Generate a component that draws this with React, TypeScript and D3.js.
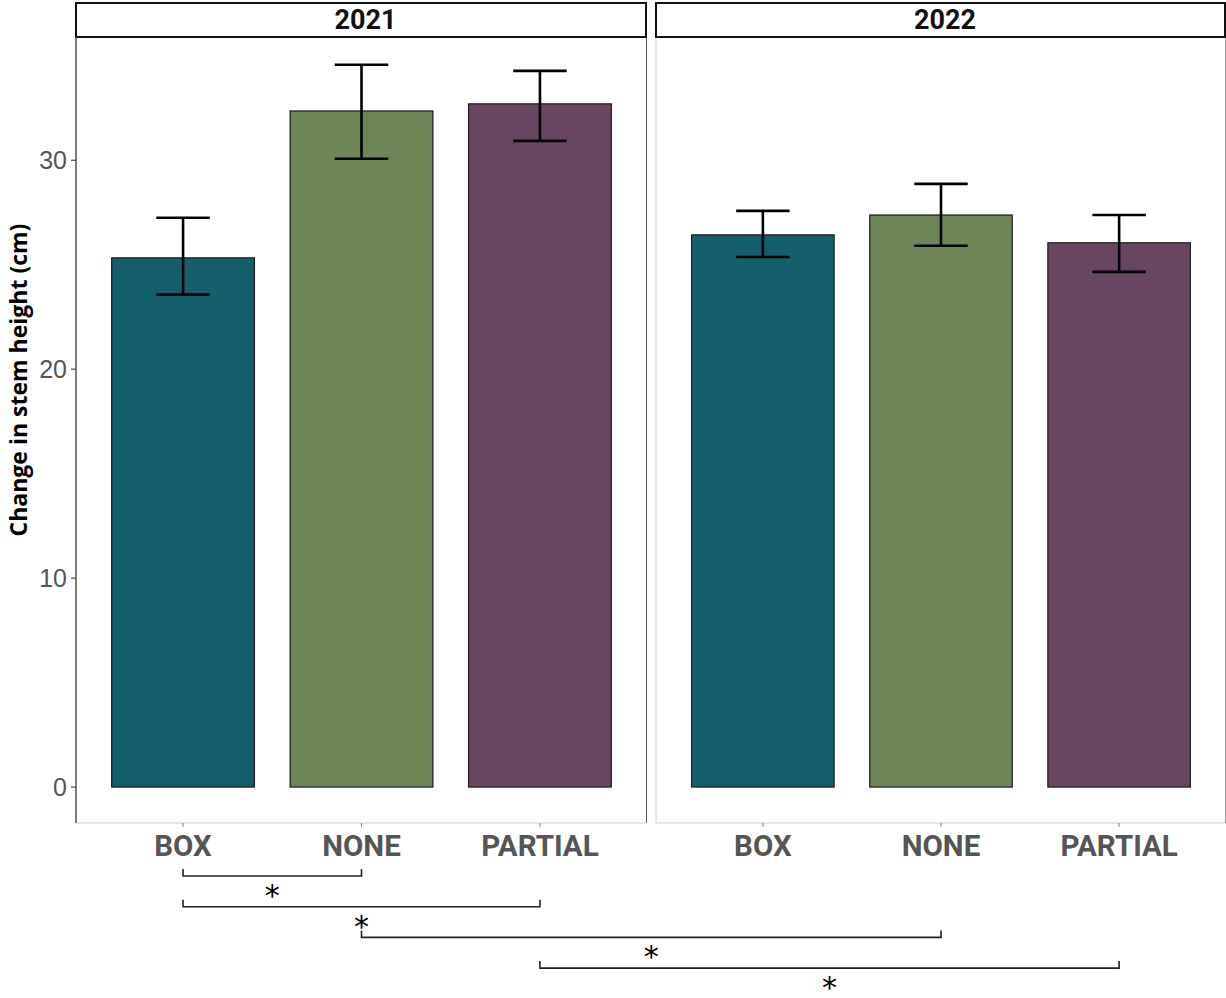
import React from "react";
import * as d3 from "d3";

// Treatments shown in each year panel
const treatments = ["BOX", "NONE", "PARTIAL"];
const years = ["2021", "2022"];

// Mean change in stem height (cm) per treatment, by year
const means2021 = [25.33, 32.36, 32.7];
const means2022 = [26.43, 27.38, 26.05];

// Error bar bounds (lower, upper)
const lower2021 = [23.57, 30.07, 30.93];
const upper2021 = [27.25, 34.57, 34.28];
const lower2022 = [25.37, 25.91, 24.66];
const upper2022 = [27.58, 28.87, 27.38];

const yTicks = [0, 10, 20, 30];

// Pairwise comparisons marked as significant
const comparisons: [string, string, string, string][] = [
  ["2021", "BOX", "2021", "NONE"],
  ["2021", "BOX", "2021", "PARTIAL"],
  ["2021", "NONE", "2022", "NONE"],
  ["2021", "PARTIAL", "2022", "PARTIAL"],
];
const sigLabels = ["*", "*", "*", "*"];

const fillColors = ["#155e6b", "#6e8558", "#684662"];

const W = 1226;
const H = 998;
const panelTop = 37;
const panelBottom = 823;
const panels = [
  { year: years[0], x0: 76, x1: 647, means: means2021, lo: lower2021, hi: upper2021 },
  { year: years[1], x0: 656, x1: 1226, means: means2022, lo: lower2022, hi: upper2022 },
];

export default function App() {
  const y = d3.scaleLinear().domain([-1.72, 35.9]).range([panelBottom, panelTop]);

  const xScales: Record<string, d3.ScalePoint<string>> = {};
  panels.forEach((p) => {
    xScales[p.year] = d3
      .scalePoint<string>()
      .domain(treatments)
      .range([p.x0, p.x1])
      .padding(0.6);
  });

  const bracketTop = 876;
  const bracketStep = 30.7;

  return (
    <svg
      width={W}
      height={H}
      style={{ position: "absolute", left: 0, top: 0, background: "#fff" }}
    >
      <rect x={0} y={0} width={W} height={H} fill="#fff" />
      {panels.map((p, pi) => {
        const x = xScales[p.year];
        const step = x.step();
        const bw = step * 0.8;
        const cap = step * 0.3;
        return (
          <g key={p.year}>
            {/* panel border */}
            <line x1={p.x0} x2={p.x1 - 0.5} y1={panelBottom} y2={panelBottom} stroke="#cfcfcf" strokeWidth={1.2} />
            <line
              x1={p.x1 - 0.5}
              x2={p.x1 - 0.5}
              y1={panelTop}
              y2={panelBottom}
              stroke={pi === 0 ? "#555" : "#999"}
              strokeWidth={1}
            />
            {pi === 1 && (
              <line x1={p.x0} x2={p.x0} y1={panelTop} y2={panelBottom} stroke="#d6d6d6" strokeWidth={1.2} />
            )}
            {/* strip */}
            <rect
              x={p.x0}
              y={3}
              width={p.x1 - p.x0 - 1}
              height={panelTop - 3}
              fill="#fff"
              stroke="#111"
              strokeWidth={2}
            />
            <text
              x={(p.x0 + p.x1) / 2 + 4}
              y={29}
              textAnchor="middle"
              fontFamily="Roboto, 'Noto Sans', sans-serif"
              fontWeight={700}
              fontSize={27}
              fill="#111"
            >
              {p.year}
            </text>
            {/* bars */}
            {treatments.map((t, i) => {
              const cx = x(t)!;
              return (
                <g key={t}>
                  <rect
                    x={cx - bw / 2}
                    y={y(p.means[i])}
                    width={bw}
                    height={y(0) - y(p.means[i])}
                    fill={fillColors[i]}
                    stroke="#1a1a1a"
                    strokeWidth={1.2}
                  />
                  <g stroke="#000" strokeWidth={2.6} fill="none">
                    <line x1={cx} x2={cx} y1={y(p.lo[i])} y2={y(p.hi[i])} />
                    <line x1={cx - cap / 2} x2={cx + cap / 2} y1={y(p.hi[i])} y2={y(p.hi[i])} />
                    <line x1={cx - cap / 2} x2={cx + cap / 2} y1={y(p.lo[i])} y2={y(p.lo[i])} />
                  </g>
                  {/* x tick + label */}
                  <line x1={cx} x2={cx} y1={panelBottom} y2={panelBottom + 4} stroke="#888" strokeWidth={1} />
                  <text
                    x={cx}
                    y={856}
                    textAnchor="middle"
                    fontFamily="Roboto, 'Noto Sans', sans-serif"
                    fontWeight={700}
                    fontSize={29.5}
                    fill="#555"
                  >
                    {t}
                  </text>
                </g>
              );
            })}
          </g>
        );
      })}

      {/* y axis */}
      <line x1={76} x2={76} y1={panelTop} y2={panelBottom} stroke="#444" strokeWidth={1.4} />
      {yTicks.map((t) => (
        <g key={t}>
          <line x1={71} x2={76} y1={y(t)} y2={y(t)} stroke="#444" strokeWidth={1.2} />
          <text
            x={67}
            y={y(t)}
            dy="0.36em"
            textAnchor="end"
            fontFamily="'Liberation Sans', Arial, sans-serif"
            fontSize={25}
            fill="#555"
          >
            {t}
          </text>
        </g>
      ))}
      <text
        transform={`translate(27, 380) rotate(-90)`}
        textAnchor="middle"
        fontFamily="'Open Sans', sans-serif"
        fontWeight={700}
        fontSize={23}
        fill="#000"
      >
        Change in stem height (cm)
      </text>

      {/* significance brackets */}
      {comparisons.map((c, i) => {
        const xa = xScales[c[0]](c[1])!;
        const xb = xScales[c[2]](c[3])!;
        const by = bracketTop + i * bracketStep;
        return (
          <g key={i}>
            <path
              d={`M${xa},${by - 7}V${by}H${xb}V${by - 7}`}
              fill="none"
              stroke="#222"
              strokeWidth={1.6}
            />
            <text
              x={(xa + xb) / 2}
              y={by + 30}
              textAnchor="middle"
              fontFamily="'DejaVu Sans', sans-serif"
              fontSize={30}
              fill="#000"
            >
              {sigLabels[i]}
            </text>
          </g>
        );
      })}
    </svg>
  );
}
